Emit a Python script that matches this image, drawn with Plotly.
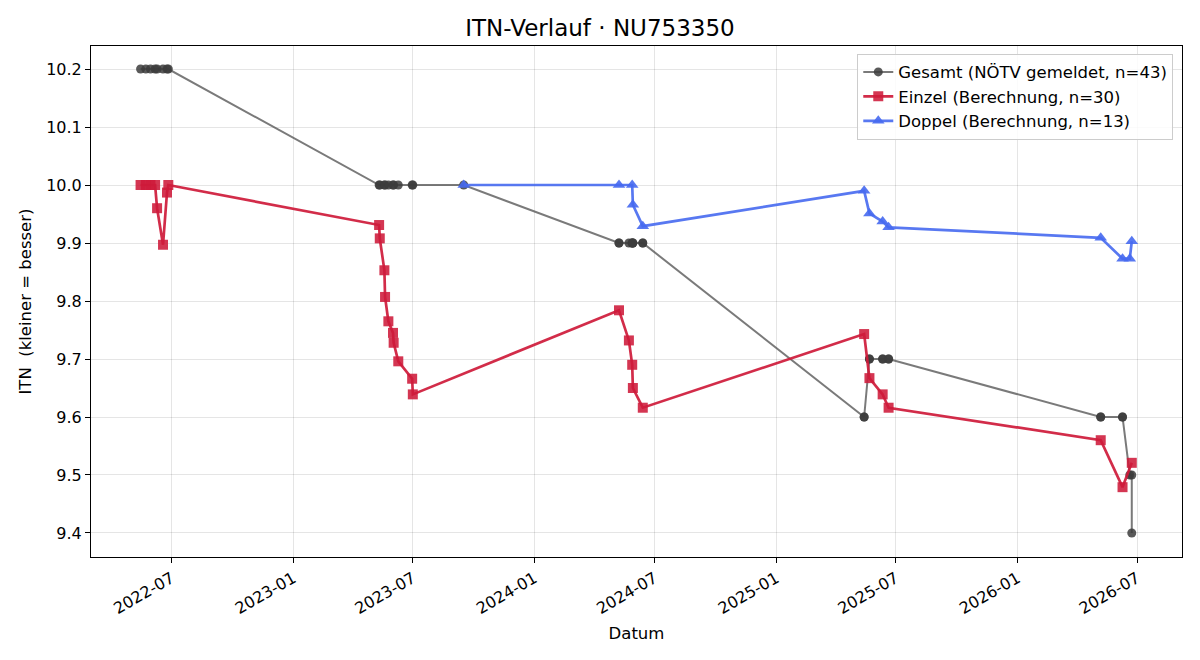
import plotly.graph_objects as go

# ---------------- data ----------------
gesamt_dates = [
    "2022-05-15", "2022-05-23", "2022-05-30", "2022-06-06", "2022-06-09", "2022-06-18", "2022-06-24", "2022-06-26",
    "2023-05-11", "2023-05-12", "2023-05-19", "2023-05-20", "2023-05-25", "2023-06-01", "2023-06-02", "2023-06-09",
    "2023-06-30", "2023-07-01", "2023-09-16",
    "2024-05-08", "2024-05-08", "2024-05-23", "2024-05-28", "2024-05-28", "2024-05-29", "2024-05-29", "2024-06-13", "2024-06-13",
    "2025-05-14", "2025-05-14", "2025-05-22", "2025-05-22", "2025-06-11", "2025-06-11", "2025-06-20", "2025-06-20",
    "2026-05-07", "2026-05-07", "2026-06-09", "2026-06-09", "2026-06-20", "2026-06-23", "2026-06-23",
]
gesamt_itn = [
    10.2, 10.2, 10.2, 10.2, 10.2, 10.2, 10.2, 10.2,
    10.0, 10.0, 10.0, 10.0, 10.0, 10.0, 10.0, 10.0,
    10.0, 10.0, 10.0,
    9.9, 9.9, 9.9, 9.9, 9.9, 9.9, 9.9, 9.9, 9.9,
    9.6, 9.6, 9.7, 9.7, 9.7, 9.7, 9.7, 9.7,
    9.6, 9.6, 9.6, 9.6, 9.5, 9.5, 9.4,
]

einzel_dates = [
    "2022-05-15", "2022-05-23", "2022-05-30", "2022-06-06", "2022-06-09", "2022-06-18", "2022-06-24", "2022-06-26",
    "2023-05-11", "2023-05-12", "2023-05-19", "2023-05-20", "2023-05-25", "2023-06-01", "2023-06-02", "2023-06-09",
    "2023-06-30", "2023-07-01",
    "2024-05-08", "2024-05-23", "2024-05-28", "2024-05-29", "2024-06-13",
    "2025-05-14", "2025-05-22", "2025-06-11", "2025-06-20",
    "2026-05-07", "2026-06-09", "2026-06-23",
]
einzel_itn = [
    10.0, 10.0, 10.0, 10.0, 9.96, 9.897, 9.987, 10.0,
    9.931, 9.908, 9.853, 9.807, 9.765, 9.745, 9.728, 9.696,
    9.666, 9.639,
    9.784, 9.732, 9.690, 9.650, 9.616,
    9.743, 9.667, 9.639, 9.616,
    9.560, 9.479, 9.521,
]

doppel_dates = [
    "2023-09-16",
    "2024-05-08", "2024-05-28", "2024-05-29", "2024-06-13",
    "2025-05-14", "2025-05-22", "2025-06-11", "2025-06-20",
    "2026-05-07", "2026-06-09", "2026-06-20", "2026-06-23",
]
doppel_itn = [
    10.0,
    10.0, 10.0, 9.966, 9.929,
    9.990, 9.951, 9.937, 9.927,
    9.909, 9.873, 9.873, 9.903,
]

title = "ITN-Verlauf · NU753350"
font = "DejaVu Sans, Liberation Sans, sans-serif"

fig = go.Figure()
fig.add_trace(go.Scatter(
    x=gesamt_dates, y=gesamt_itn, mode="lines+markers",
    name="Gesamt (NÖTV gemeldet, n=43)",
    line=dict(color="rgba(85,85,85,0.78)", width=2),
    marker=dict(symbol="circle", size=9, color="rgba(60,60,60,0.85)", line=dict(width=0)),
))
fig.add_trace(go.Scatter(
    x=einzel_dates, y=einzel_itn, mode="lines+markers",
    name="Einzel (Berechnung, n=30)",
    line=dict(color="rgba(206,26,58,0.92)", width=2.7),
    marker=dict(symbol="square", size=10, color="rgba(206,26,58,0.88)", line=dict(width=0)),
))
fig.add_trace(go.Scatter(
    x=doppel_dates, y=doppel_itn, mode="lines+markers",
    name="Doppel (Berechnung, n=13)",
    line=dict(color="rgba(70,105,240,0.9)", width=2.7),
    marker=dict(symbol="triangle-up", size=11, color="rgba(70,105,240,0.9)", line=dict(width=0)),
))

fig.update_layout(
    width=1200, height=660,
    margin=dict(l=91, r=18, t=46, b=103),
    paper_bgcolor="white", plot_bgcolor="white",
    font=dict(family=font, size=16, color="black"),
    title=dict(text=title, x=0.5, xanchor="center", y=0.958, yanchor="middle",
               font=dict(size=23, family=font, color="black")),
    legend=dict(x=0.992, y=0.985, xanchor="right", yanchor="top",
                bgcolor="rgba(255,255,255,0.85)", bordercolor="#cccccc", borderwidth=1,
                font=dict(size=16.5, family=font)),
    showlegend=True,
)
fig.update_xaxes(
    type="date", range=["2022-03-01", "2026-09-07"],
    dtick="M6", tick0="2022-01-01", tickformat="%Y-%m", tickangle=-30,
    showgrid=True, gridcolor="rgba(0,0,0,0.1)", gridwidth=1,
    showline=True, linecolor="black", linewidth=1, mirror=True,
    ticks="outside", ticklen=5, tickcolor="black",
    tickfont=dict(size=16, family=font),
    title=dict(text="Datum", font=dict(size=16.5, family=font), standoff=10),
    zeroline=False,
)
fig.update_yaxes(
    range=[9.3586, 10.2397], dtick=0.1, tick0=9.4, tickformat=".1f",
    showgrid=True, gridcolor="rgba(0,0,0,0.1)", gridwidth=1,
    showline=True, linecolor="black", linewidth=1, mirror=True,
    ticks="outside", ticklen=5, tickcolor="black",
    tickfont=dict(size=16, family=font),
    title=dict(text="ITN  (kleiner = besser)", font=dict(size=16.5, family=font), standoff=10),
    zeroline=False,
)

fig.write_html("out.html")
